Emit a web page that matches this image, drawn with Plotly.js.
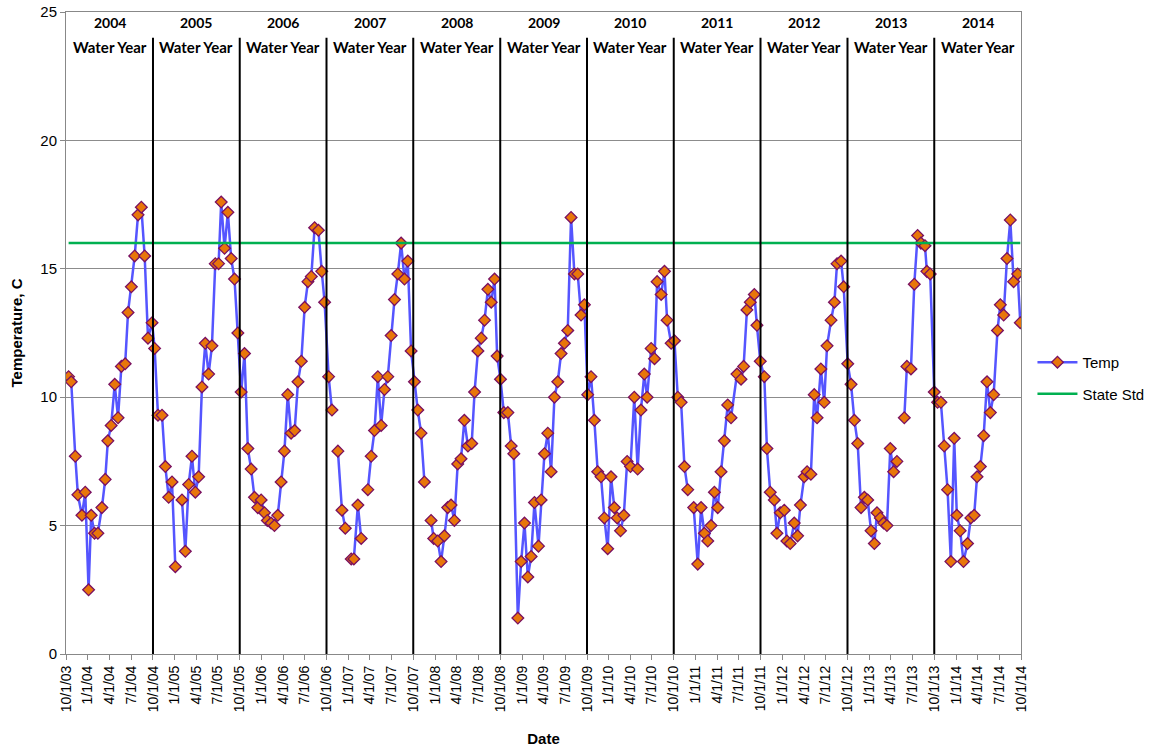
<!DOCTYPE html>
<html>
<head>
<meta charset="utf-8">
<script src="https://cdn.plot.ly/plotly-3.0.1.min.js"></script>
<style>html,body{margin:0;padding:0;background:#fff;}#chart{width:1163px;height:748px;}</style>
</head>
<body>
<div id="chart"></div>
<script>
// Sample day (days since 10/1/2003) and temperature (C); null = gap in record
const sampleDay = [11,22,39,50,67,81,95,106,120,134,151,165,176,190,205,219,233,249,261,275,289,303,317,331,345,362,373,
387,404,418,432,446,460,474,488,502,516,530,544,558,572,586,600,614,628,642,653,667,681,695,709,723,
737,751,765,779,793,807,821,835,847,863,877,891,905,919,933,947,962,976,990,1004,1018,1032,1046,1062,1076,1088,
1105,1119,1131,1144,1161,1175,1188,1200,1211,1228,1242,1256,1270,1284,1298,1312,1326,1340,1354,1368,1382,1396,1410,1424,1438,1452,
1466,1480,1494,1508,1522,1536,1547,1564,1578,1592,1606,1620,1634,1648,1662,1676,1691,1707,1719,1733,1747,1761,1775,1789,1803,1814,
1828,1842,1859,1873,1884,1901,1915,1929,1943,1957,1971,1988,1999,2013,2027,2041,2055,2069,2083,2097,2111,2125,2139,2153,2167,2181,
2195,2209,2223,2237,2251,2265,2279,2293,2307,2319,2333,2347,2361,2375,2391,2405,2419,2433,2445,2462,2476,2487,2504,2518,2529,2546,
2560,2574,2588,2602,2616,2628,2641,2658,2672,2686,2700,2714,2728,2742,2756,2770,2784,2798,2823,2840,2851,2865,2879,2896,2907,2921,
2938,2949,2963,2980,2991,3005,3022,3033,3047,3064,3078,3090,3106,3118,3134,3148,3160,3176,3190,3202,3219,3233,3244,3261,3272,3289,
3303,3317,3331,3345,3359,3373,3387,3401,3412,3426,3440,3454,3468,3482,3496,3511,3527,3538,3555,3569,3583,3597,3614,3622,3636,3653,
3667,3681,3695,3709,3723,3737,3748,3762,3776,3793,3807,3821,3833,3847,3861,3875,3889,3903,3919,3931,3945,3959,3973,3987,4004,4015];
const temp = [10.8,10.6,7.7,6.2,5.4,6.3,2.5,5.4,4.7,4.7,5.7,6.8,8.3,8.9,10.5,9.2,11.2,11.3,13.3,14.3,15.5,17.1,17.4,15.5,12.3,12.9,11.9,
9.3,9.3,7.3,6.1,6.7,3.4,null,6.0,4.0,6.6,7.7,6.3,6.9,10.4,12.1,10.9,12.0,15.2,15.2,17.6,15.8,17.2,15.4,14.6,12.5,
10.2,11.7,8.0,7.2,6.1,5.7,6.0,5.5,5.2,5.1,5.0,5.4,6.7,7.9,10.1,8.6,8.7,10.6,11.4,13.5,14.5,14.7,16.6,16.5,14.9,13.7,
10.8,9.5,null,7.9,5.6,4.9,null,3.7,3.7,5.8,4.5,null,6.4,7.7,8.7,10.8,8.9,10.3,10.8,12.4,13.8,14.8,16.0,14.6,15.3,11.8,
10.6,9.5,8.6,6.7,null,5.2,4.5,4.4,3.6,4.6,5.7,5.8,5.2,7.4,7.6,9.1,8.1,8.2,10.2,11.8,12.3,13.0,14.2,13.7,14.6,11.6,
10.7,9.4,9.4,8.1,7.8,1.4,3.6,5.1,3.0,3.8,5.9,4.2,6.0,7.8,8.6,7.1,10.0,10.6,11.7,12.1,12.6,17.0,14.8,14.8,13.2,13.6,
10.1,10.8,9.1,7.1,6.9,5.3,4.1,6.9,5.7,5.3,4.8,5.4,7.5,7.3,10.0,7.2,9.5,10.9,10.0,11.9,11.5,14.5,14.0,14.9,13.0,12.1,
12.2,10.0,9.8,7.3,6.4,null,5.7,3.5,5.7,4.7,4.4,5.0,6.3,5.7,7.1,8.3,9.7,9.2,10.9,10.7,11.2,13.4,13.7,14.0,12.8,11.4,
10.8,8.0,6.3,6.0,4.7,5.5,5.6,4.4,4.3,5.1,4.6,5.8,6.9,7.1,7.0,10.1,9.2,11.1,9.8,12.0,13.0,13.7,15.2,15.3,14.3,11.3,
10.5,9.1,8.2,5.7,6.1,6.0,4.8,4.3,5.5,5.3,5.1,5.0,8.0,7.1,7.5,null,9.2,11.2,11.1,14.4,16.3,16.0,15.9,14.9,14.8,10.2,
9.8,9.8,8.1,6.4,3.6,8.4,5.4,4.8,3.6,4.3,5.3,5.4,6.9,7.3,8.5,10.6,9.4,10.1,12.6,13.6,13.2,15.4,16.9,14.5,14.8,12.9];
const stateStdValue = 16;
const waterYears = [2004,2005,2006,2007,2008,2009,2010,2011,2012,2013,2014];
const seriesNames = ["Temp","State Std"];

const DAY = 86400000;
const base = Date.UTC(2003, 9, 1);
const iso = t => new Date(t).toISOString().slice(0,10);
const dates = sampleDay.map(d => iso(base + d*DAY));
const oct1 = y => iso(Date.UTC(y, 9, 1));
const firstDate = dates[0], lastDate = dates[dates.length-1];

const traces = [
  {
    x: dates, y: temp, name: seriesNames[0], legendgroup: 'a', type: 'scatter', mode: 'lines+markers',
    connectgaps: false,
    line: {color: 'rgb(85,85,255)', width: 2.5},
    marker: {symbol: 'diamond', size: 9, color: '#E8760A', line: {color: '#7A1060', width: 1.3}}
  },
  {
    x: [firstDate, lastDate], y: [stateStdValue, stateStdValue], name: seriesNames[1], legendgroup: 'b',
    type: 'scatter', mode: 'lines', line: {color: '#00B050', width: 2.5}
  }
];

const shapes = [];
const annotations = [];
waterYears.forEach((wy, i) => {
  if (i > 0) {
    shapes.push({type: 'line', xref: 'x', yref: 'y', x0: oct1(wy-1), x1: oct1(wy-1), y0: 0, y1: 24,
      line: {color: '#000', width: 2}, layer: 'above'});
  }
  const mid = iso((Date.UTC(wy-1, 9, 1) + Date.UTC(wy, 9, 1)) / 2);
  annotations.push({x: mid, xref: 'x', y: 0.983, yref: 'paper', text: '<b>' + wy + '</b>', showarrow: false,
    font: {family: 'Lato, "Open Sans", sans-serif', size: 14, color: '#000'}, yanchor: 'middle'});
  annotations.push({x: mid, xref: 'x', y: 0.946, yref: 'paper', text: '<b>Water Year</b>', showarrow: false,
    font: {family: 'Lato, "Open Sans", sans-serif', size: 15, color: '#000'}, yanchor: 'middle'});
});

const layout = {
  width: 1163, height: 748,
  margin: {l: 66, r: 142, t: 12, b: 94},
  paper_bgcolor: '#fff', plot_bgcolor: '#fff',
  font: {family: '"Liberation Sans", Arial, sans-serif', color: '#000'},
  showlegend: true,
  legend: {x: 1.012, y: 0.43, xanchor: 'left', yanchor: 'middle', font: {size: 15}, bgcolor: 'rgba(0,0,0,0)',
    tracegroupgap: 9, itemwidth: 40},
  xaxis: {
    type: 'date', range: [oct1(2003), oct1(2014)],
    tick0: oct1(2003), dtick: 'M3', tickformat: '%-m/%-d/%y', tickangle: -90,
    ticks: 'outside', ticklen: 5, tickcolor: '#888', tickfont: {size: 14},
    showgrid: false, showline: true, linecolor: '#888', linewidth: 1, mirror: true,
    title: {text: '<b>Date</b>', font: {size: 15}, standoff: 22}
  },
  yaxis: {
    range: [0, 25], dtick: 5, tick0: 0, tickfont: {size: 15},
    showgrid: true, gridcolor: '#8c8c8c', gridwidth: 1,
    showline: true, linecolor: '#888', linewidth: 1, mirror: true,
    ticks: 'outside', ticklen: 5, tickcolor: '#888', zeroline: false,
    title: {text: '<b>Temperature, C</b>', font: {size: 15}, standoff: 14}
  },
  shapes: shapes,
  annotations: annotations
};

Plotly.newPlot('chart', traces, layout, {displayModeBar: false, responsive: false});
</script>
</body>
</html>
